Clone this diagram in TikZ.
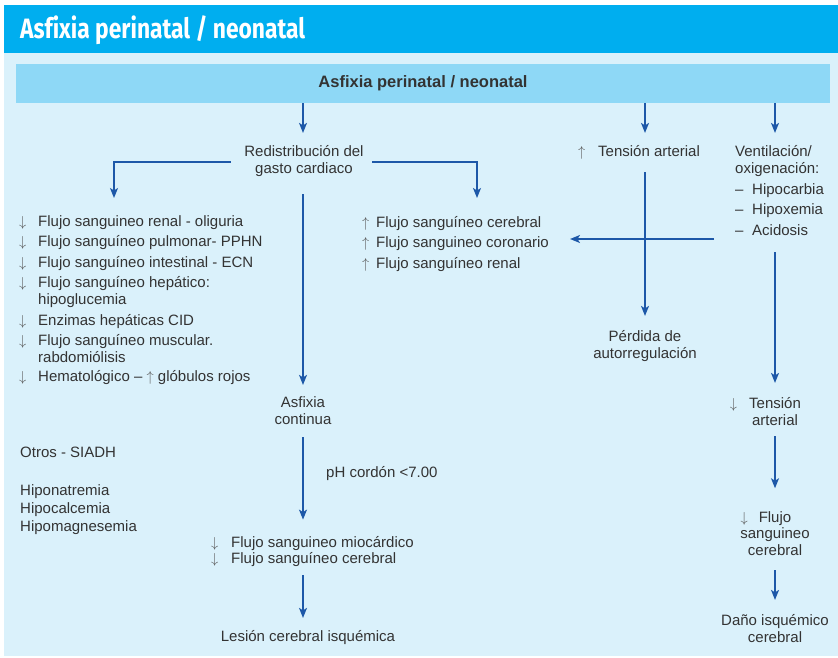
\documentclass[tikz,border=0pt]{standalone}
\usepackage{fontspec}
\setmainfont{Liberation Sans}
\newfontfamily\headfont[Ligatures=NoCommon]{Fira Sans}
\usetikzlibrary{arrows.meta}

\definecolor{titlebar}{HTML}{00AEEF}
\definecolor{panel}{HTML}{DAF1FB}
\definecolor{band}{HTML}{8ED8F6}
\definecolor{flowblue}{HTML}{1D58A8}
\definecolor{ink}{HTML}{333333}
\definecolor{arrowgray}{HTML}{5A5A5A}

% stacked lines, first baseline is the node's base anchor
\newcommand\stackc[1]{\begin{tabular}[t]{@{}c@{}}#1\end{tabular}}
\newcommand\stackl[1]{\begin{tabular}[t]{@{}l@{}}#1\end{tabular}}
% thin trend arrows set before list entries
\newcommand\dn{\textcolor{arrowgray}{$\downarrow$}}
\newcommand\up{\textcolor{arrowgray}{$\uparrow$}}
\newcommand\lead[2]{\makebox[#1][l]{#2}}

\tikzset{
  txt/.style={text=ink, inner sep=0pt, font=\fontsize{15}{17}\selectfont},
  flow/.style={draw=flowblue, line width=1.4pt,
    -{Stealth[length=10pt,width=8pt,inset=2.5pt]}}
}

\begin{document}
\begin{tikzpicture}[x=1pt,y=-1pt]
\useasboundingbox (0,0) rectangle (838,658);
\fill[white] (0,0) rectangle (838,658);
\fill[titlebar] (4,5) rectangle (838,53);
\fill[panel] (4,53) rectangle (838,656);

% title bar
\node[anchor=base west, inner sep=0pt, text=white,
      font=\headfont\bfseries\fontsize{28}{30}\selectfont] (title) at (20,39)
  {\resizebox{285pt}{\height}{Asfixia perinatal / neonatal}};

% header band
\node[fill=band, minimum width=814pt, minimum height=39pt, inner sep=0pt,
      text=ink, font=\bfseries\fontsize{16.5}{19}\selectfont] (hdr) at (423,83.5)
  {Asfixia perinatal / neonatal};

% central column
\node[txt, anchor=base] (redis) at (304,157)
  {\stackc{Redistribución del\\gasto cardiaco}};
\node[txt, anchor=base] (asfix) at (303,407)
  {\stackc{Asfixia\\continua}};
\node[txt, anchor=base west] (ph) at (326,477) {pH cordón <7.00};
\node[txt, anchor=base west, font=\fontsize{15}{16}\selectfont] (mio) at (211,547)
  {\stackl{\lead{20pt}{\dn}Flujo sanguineo miocárdico\\
           \lead{20pt}{\dn}Flujo sanguíneo cerebral}};
\node[txt, anchor=base] (lesion) at (308,641) {\stackc{Lesión cerebral isquémica}};

% left column
\node[txt, anchor=base west] (leftlist) at (19,226)
  {\stackl{\lead{19pt}{\dn}Flujo sanguineo renal - oliguria\\[3.5pt]
           \lead{19pt}{\dn}Flujo sanguíneo pulmonar- PPHN\\[3.5pt]
           \lead{19pt}{\dn}Flujo sanguíneo intestinal - ECN\\[3.5pt]
           \lead{19pt}{\dn}Flujo sanguíneo hepático:\\
           \lead{19pt}{}hipoglucemia\\[3.5pt]
           \lead{19pt}{\dn}Enzimas hepáticas CID\\[3.5pt]
           \lead{19pt}{\dn}Flujo sanguíneo muscular.\\
           \lead{19pt}{}rabdomiólisis\\[1.5pt]
           \lead{19pt}{\dn}Hematológico – \up\ glóbulos rojos}};
\node[txt, anchor=base west] (otros) at (20,457) {Otros - SIADH};
\node[txt, anchor=base west, font=\fontsize{15}{18}\selectfont] (hipos) at (20,495)
  {\stackl{Hiponatremia\\Hipocalcemia\\Hipomagnesemia}};

% increased flow list
\node[txt, anchor=base west] (uplist) at (362,227)
  {\stackl{\lead{14pt}{\up}Flujo sanguíneo cerebral\\[3.5pt]
           \lead{14pt}{\up}Flujo sanguineo coronario\\[3.5pt]
           \lead{14pt}{\up}Flujo sanguíneo renal}};

% blood pressure column
\node[txt, anchor=base west] (tens) at (578,157)
  {\stackl{\lead{20pt}{\up}Tensión arterial}};
\node[txt, anchor=base] (perdida) at (645,341)
  {\stackc{Pérdida de\\autorregulación}};

% ventilation column
\node[txt, anchor=base west] (vent) at (735,157)
  {\stackl{Ventilación/\\
           oxigenación:\\[4pt]
           \lead{17pt}{–}Hipocarbia\\[3pt]
           \lead{17pt}{–}Hipoxemia\\[4pt]
           \lead{17pt}{–}Acidosis}};
\node[txt, anchor=base] (tens2) at (775,408)
  {\stackc{\llap{\dn\hspace{12pt}}Tensión\\arterial}};
\node[txt, anchor=base, font=\fontsize{15}{16.5}\selectfont] (flujo2) at (775,522)
  {\stackc{\llap{\dn\hspace{11pt}}Flujo\\sanguineo\\cerebral}};
\node[txt, anchor=base] (dano) at (775,625)
  {\stackc{Daño isquémico\\cerebral}};

% connector ends
\coordinate (ltip) at (114,198);
\coordinate (rtip) at (477,198);
\coordinate (hstart) at (714,239);

% connectors
\draw[flow, shorten >=12pt] (asfix |- hdr.south) -- (asfix |- redis.north);
\draw[flow, shorten <=13.5pt] (redis.west) -| (ltip);
\draw[flow, shorten <=8.5pt] (redis.east) -| (rtip);
\draw[flow, shorten <=15pt, shorten >=10pt] (asfix |- redis.south) -- (asfix.north);
\draw[flow, shorten <=8pt, shorten >=16pt] (asfix.south) -- (asfix.south |- mio.north);
\draw[flow, shorten <=7pt, shorten >=11pt] (asfix |- mio.south) -- (asfix |- lesion.north);

\draw[flow, shorten >=12pt] (perdida |- hdr.south) -- (perdida |- tens.north);
\draw[flow, shorten <=10pt, shorten >=13pt] (perdida |- tens.south) -- (perdida.north);
\draw[flow, shorten >=21pt] (hstart) -- (hstart -| uplist.east);

\draw[flow, shorten >=12pt] (tens2 |- hdr.south) -- (tens2 |- vent.north);
\draw[flow, shorten <=11pt, shorten >=13pt] (tens2 |- vent.south) -- (tens2.north);
\draw[flow, shorten <=6pt, shorten >=22pt] (tens2.south) -- (flujo2.north);
\draw[flow, shorten <=10pt, shorten >=13pt] (flujo2.south) -- (dano.north);
\end{tikzpicture}
\end{document}
